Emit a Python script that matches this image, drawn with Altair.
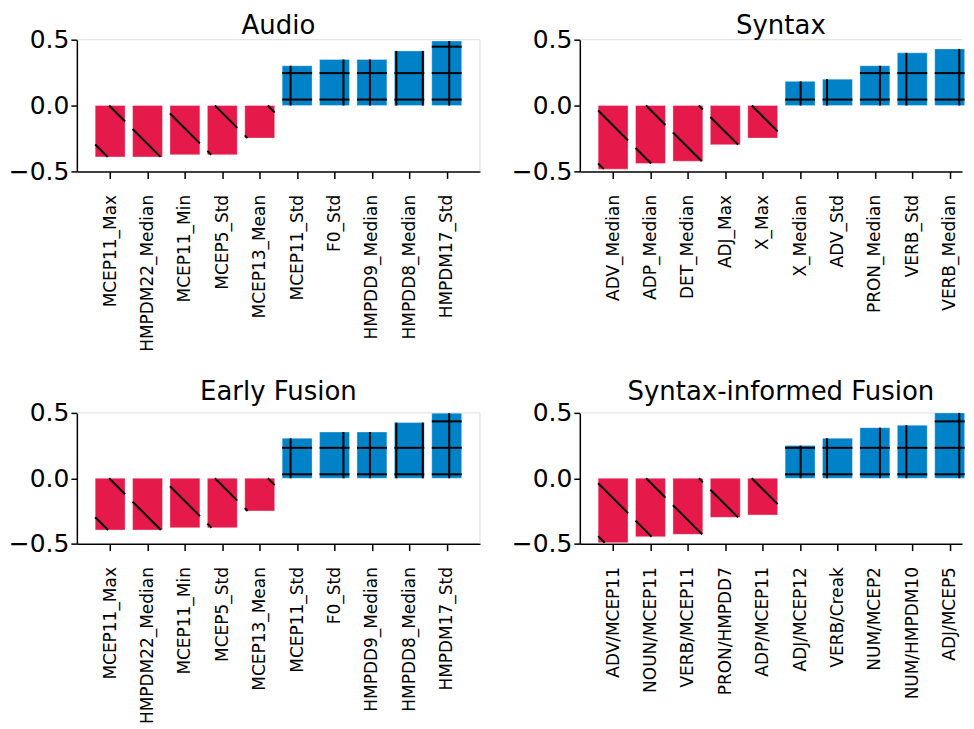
import math
import json
import altair as alt
import pandas as pd

# ---------------- data ----------------
audio_labels = ["MCEP11_Max", "HMPDM22_Median", "MCEP11_Min", "MCEP5_Std", "MCEP13_Mean",
                "MCEP11_Std", "F0_Std", "HMPDD9_Median", "HMPDD8_Median", "HMPDM17_Std"]
audio_values = [-0.39, -0.39, -0.373, -0.373, -0.247, 0.302, 0.35, 0.35, 0.415, 0.49]

syntax_labels = ["ADV_Median", "ADP_Median", "DET_Median", "ADJ_Max", "X_Max",
                 "X_Median", "ADV_Std", "PRON_Median", "VERB_Std", "VERB_Median"]
syntax_values = [-0.483, -0.44, -0.423, -0.297, -0.247, 0.184, 0.2, 0.302, 0.40, 0.43]

early_labels = ["MCEP11_Max", "HMPDM22_Median", "MCEP11_Min", "MCEP5_Std", "MCEP13_Mean",
                "MCEP11_Std", "F0_Std", "HMPDD9_Median", "HMPDD8_Median", "HMPDM17_Std"]
early_values = [-0.396, -0.396, -0.378, -0.378, -0.25, 0.306, 0.354, 0.354, 0.426, 0.498]

sif_labels = ["ADV/MCEP11", "NOUN/MCEP11", "VERB/MCEP11", "PRON/HMPDD7", "ADP/MCEP11",
              "ADJ/MCEP12", "VERB/Creak", "NUM/MCEP2", "NUM/HMPDM10", "ADJ/MCEP5"]
sif_values = [-0.493, -0.447, -0.429, -0.299, -0.281, 0.25, 0.306, 0.387, 0.406, 0.5]

titles = ["Audio", "Syntax", "Early Fusion", "Syntax-informed Fusion"]

# ---------------- style ----------------
RED = "#e6194b"
BLUE = "#0082c8"
FONT = "DejaVu Sans"

X_MIN = -0.89
X_SPAN = 10.78
LEFT_W = 404
RIGHT_W = 383
TOP_H = 132
BOT_H = 131
PB = LEFT_W / X_SPAN      # px per bar slot
HATCH = 26.5              # hatch period in px
HALF = 0.4


def hatch_segments(values, pv, diag_c, vert_phase, horiz_phase):
    segs = []
    for i, val in enumerate(values):
        uL, uR = (i - HALF) * PB, (i + HALF) * PB
        if val < 0:
            V = -val * pv
            per = 2 * HATCH
            kmin = int(math.floor((uL - V - diag_c) / per)) - 1
            kmax = int(math.ceil((uR - diag_c) / per)) + 1
            for k in range(kmin, kmax + 1):
                ck = diag_c + k * per
                v1 = max(0.0, uL - ck)
                v2 = min(V, uR - ck)
                if v2 - v1 > 1.5:
                    segs.append(dict(hx=(v1 + ck) / PB, hy=-v1 / pv,
                                     hx2=(v2 + ck) / PB, hy2=-v2 / pv))
        else:
            H = val * pv
            k0 = math.ceil((uL + 1.5 - vert_phase) / HATCH)
            u = vert_phase + k0 * HATCH
            while u < uR - 1.5:
                segs.append(dict(hx=u / PB, hy=0.0, hx2=u / PB, hy2=val))
                u += HATCH
            h = horiz_phase
            while h < H - 1:
                segs.append(dict(hx=i - HALF, hy=h / pv, hx2=i + HALF, hy2=h / pv))
                h += HATCH
    return pd.DataFrame(segs)


def panel(title, labels, values, width, height, diag_c, vphase, hphase, right_border,
          title_offset, title_dx):
    xmax = X_MIN + width / PB
    df = pd.DataFrame({
        "idx": list(range(len(labels))),
        "label": labels,
        "value": values,
    })
    df["x0"] = df["idx"] - HALF
    df["x1"] = df["idx"] + HALF
    df["zero"] = 0.0
    df["sign"] = ["neg" if v < 0 else "pos" for v in values]

    xscale = alt.Scale(domain=[X_MIN, xmax], nice=False, zero=False)
    yscale = alt.Scale(domain=[-0.5, 0.5], nice=False, zero=False)
    label_expr = json.dumps(labels) + "[datum.value]"

    bars = alt.Chart(df).mark_rect(stroke="#ffffff", strokeOpacity=0.35, strokeWidth=1).encode(
        x=alt.X("x0:Q", scale=xscale, title=None,
                axis=alt.Axis(values=list(range(len(labels))), labelExpr=label_expr,
                              labelAngle=270, labelFontSize=17, tickSize=7,
                              labelPadding=16)),
        x2="x1:Q",
        y=alt.Y("value:Q", scale=yscale, title=None,
                axis=alt.Axis(values=[-0.5, 0.0, 0.5], format=".1f",
                              labelFontSize=25, tickSize=6, labelPadding=2)),
        y2="zero:Q",
        color=alt.Color("sign:N", scale=alt.Scale(domain=["neg", "pos"], range=[RED, BLUE]),
                        legend=None),
    )

    hdf = hatch_segments(values, height, diag_c, vphase, hphase)
    hatch = alt.Chart(hdf).mark_rule(color="black", strokeWidth=2).encode(
        x=alt.X("hx:Q", scale=xscale, title=None),
        x2="hx2:Q",
        y=alt.Y("hy:Q", scale=yscale, title=None),
        y2="hy2:Q",
    )

    fdf = pd.DataFrame({"f": [0]})
    top = alt.Chart(fdf).mark_rule(color="#dedede", strokeWidth=1).encode(
        x=alt.value(0), x2=alt.value(width), y=alt.value(0))
    layers = [top, bars, hatch]
    if right_border:
        right = alt.Chart(fdf).mark_rule(color="#dedede", strokeWidth=1).encode(
            x=alt.value(width), y=alt.value(0), y2=alt.value(height))
        layers.insert(0, right)

    return alt.layer(*layers).properties(
        width=width, height=height,
        title=alt.TitleParams(title, anchor="middle", fontSize=26, font=FONT,
                              fontWeight="normal", color="black", offset=title_offset,
                              dx=title_dx, baseline="alphabetic", frame="group"),
    )


p1 = panel(titles[0], audio_labels, audio_values, LEFT_W, TOP_H, -1.0, 21.8, 6.0, True, -32, 0)
p2 = panel(titles[1], syntax_labels, syntax_values, RIGHT_W, TOP_H, -20.0, 2.4, 6.0, False, -32, 10)
p3 = panel(titles[2], early_labels, early_values, LEFT_W, BOT_H, -1.0, 21.8, 4.0, True, -25, 0)
p4 = panel(titles[3], sif_labels, sif_values, RIGHT_W, BOT_H, -20.0, 2.4, 4.0, False, -25, 10)

chart = alt.concat(p1, p2, p3, p4, columns=2,
                   spacing=alt.RowColnumber(row=242, column=100)).properties(
    bounds="flush",
    padding={"left": 0, "top": 4, "right": 0, "bottom": 0},
).configure_view(stroke=None).configure_axis(
    labelFont=FONT, labelColor="black", domainColor="black", tickColor="black",
    domainWidth=1.5, tickWidth=1.5, grid=False,
).configure_concat(spacing=0)

chart.save("out.html", embed_options={"renderer": "svg", "actions": False})
